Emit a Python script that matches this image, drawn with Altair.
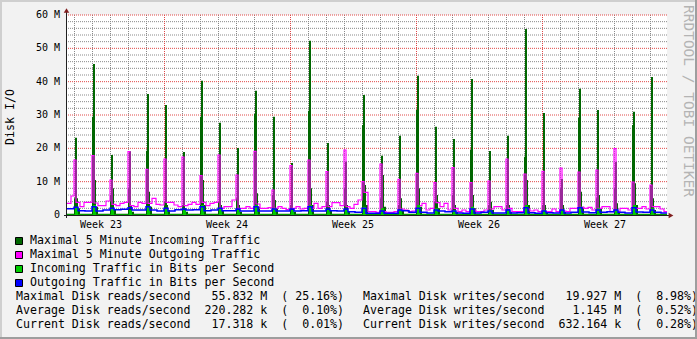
import altair as alt
import pandas as pd

# ---------------- values (M per second) ----------------
week_labels = ["Week 23", "Week 24", "Week 25", "Week 26", "Week 27"]
y_tick_values = [0, 10, 20, 30, 40, 50, 60]
y_tick_labels = ["0  ", "10 M", "20 M", "30 M", "40 M", "50 M", "60 M"]

# one nightly burst per day, 33 days
max_in_peak = [23.2, 45.3, 18.0, 19.1, 36.3, 33.0, 18.9, 40.3, 27.7, 20.1, 37.3,
               29.5, 15.6, 52.3, 21.6, 16.0, 36.0, 17.8, 23.8, 41.8, 26.5, 22.8,
               40.8, 19.2, 23.8, 55.8, 30.6, 10.8, 37.9, 31.5, 15.9, 31.0, 41.4]
max_in_lead = [5.0, 29.5, 6.0, 8.0, 19.3, 4.0, 3.0, 29.5, 4.0, 5.0, 30.3,
               6.0, 3.0, 31.3, 4.0, 8.0, 27.0, 5.0, 3.0, 31.5, 4.0, 6.0,
               19.5, 3.0, 3.0, 17.5, 3.0, 8.0, 29.2, 5.0, 8.0, 27.0, 9.0]
max_in_tail = [5.0, 10.5, 8.0, 3.0, 7.0, 3.0, 2.0, 10.5, 3.0, 3.0, 6.5,
               4.5, 2.0, 8.0, 3.0, 3.0, 9.0, 12.0, 5.0, 8.0, 6.0, 3.0,
               6.0, 4.0, 3.0, 10.5, 3.0, 3.0, 7.0, 6.0, 3.5, 9.5, 5.0]
max_in_tail2 = [2.0, 2.5, 1.5, 1.0, 2.5, 1.5, 1.0, 3.0, 1.5, 1.0, 2.5,
                2.0, 1.0, 3.0, 1.5, 1.0, 3.0, 2.5, 1.5, 2.5, 2.0, 1.0,
                2.0, 1.5, 1.0, 3.0, 1.0, 1.0, 2.5, 2.0, 1.0, 3.0, 1.5]
max_in_floor = 0.4

max_out_peak = [16.5, 17.8, 10.5, 19.0, 13.7, 16.8, 17.4, 11.8, 18.0, 12.0, 19.1,
                7.5, 14.8, 16.5, 13.0, 19.5, 10.0, 15.3, 10.7, 12.5, 9.7, 14.2,
                9.7, 10.2, 16.8, 12.3, 13.1, 14.1, 12.9, 13.5, 19.9, 9.9, 9.0]
max_out_lead = [3.5, 5.7]
max_out_base = [
    [3.8, 2.5, 3.8, 3.8], [3.6, 2.8, 2.8, 4.2], [3.2, 2.8, 3.5, 3.8], [2.8, 2.5, 3.8, 3.5],
    [3.5, 5.0, 3.2, 3.0], [3.8, 3.8, 3.0, 2.5], [2.8, 3.2, 3.8, 3.2], [3.8, 2.8, 3.5, 3.8],
    [2.0, 2.5, 2.5, 4.5], [2.0, 2.0, 2.5, 2.0], [3.3, 2.0, 2.0, 2.2], [2.0, 2.5, 2.0, 1.6],
    [2.0, 2.5, 1.8, 2.0], [2.0, 3.5, 2.0, 2.5], [2.5, 3.7, 3.7, 2.8], [2.5, 2.0, 3.2, 4.5],
    [6.8, 1.0, 1.0, 0.8], [1.0, 0.8, 0.8, 1.0], [1.8, 1.5, 1.0, 1.2], [2.8, 3.5, 1.5, 2.0],
    [3.7, 2.5, 3.5, 1.5], [2.0, 1.0, 1.5, 1.0], [1.5, 1.0, 1.0, 1.5], [1.8, 2.5, 2.5, 1.5],
    [2.0, 1.0, 1.0, 1.0], [1.8, 1.2, 1.5, 1.0], [1.0, 1.0, 1.8, 1.0], [1.2, 1.0, 2.0, 2.0],
    [2.3, 2.0, 2.3, 1.5], [2.0, 2.5, 2.5, 1.0], [1.0, 2.0, 2.0, 1.5], [2.0, 2.0, 2.5, 1.8],
    [2.5, 2.5, 1.8, 1.0],
]

avg_in_peak = [2.5, 3.0, 2.0, 1.5, 2.5, 2.0, 1.5, 3.0, 2.0, 1.5, 3.0,
               2.0, 1.5, 3.0, 1.5, 1.5, 2.5, 2.0, 1.5, 3.0, 2.0, 1.5,
               2.5, 1.5, 1.5, 3.0, 1.5, 1.5, 2.5, 2.0, 1.5, 3.0, 2.0]
avg_in_floor = 0.15

avg_out_peak = [2.3, 2.5, 2.0, 2.2, 2.5, 2.0, 1.8, 2.5, 2.0, 1.8, 2.5,
                1.8, 1.8, 2.5, 1.8, 1.8, 2.0, 1.2, 1.5, 2.0, 1.5, 1.2,
                1.8, 1.2, 1.5, 2.2, 1.2, 1.5, 2.2, 1.5, 1.5, 2.2, 1.5]
avg_out_lead = 1.9
avg_out_base = [
    [1.3, 1.2], [1.2, 1.5], [1.6, 1.7], [1.5, 1.5], [1.5, 1.2], [1.2, 1.6], [1.5, 1.6],
    [1.3, 1.5], [1.3, 1.3], [1.2, 1.2], [1.2, 1.2], [1.2, 1.2], [1.2, 1.3], [1.2, 1.2],
    [1.3, 1.2], [1.0, 0.8], [0.5, 0.5], [0.5, 0.5], [1.3, 0.8], [0.8, 0.6], [1.2, 1.0],
    [0.6, 0.5], [0.6, 0.8], [0.6, 0.6], [0.6, 0.7], [0.7, 0.5], [0.7, 0.6], [0.6, 0.8],
    [0.9, 0.7], [0.8, 1.0], [0.8, 0.6], [0.9, 0.8], [0.8, 0.6],
]

legend_labels = ["Maximal 5 Minute Incoming Traffic", "Maximal 5 Minute Outgoing Traffic",
                 "Incoming Traffic in Bits per Second", "Outgoing Traffic in Bits per Second"]
legend_colors = ["#006600", "#FF00FF", "#00CC00", "#0000FF"]
stats_left = ["Maximal Disk reads/second   55.832 M  ( 25.16%)",
              "Average Disk reads/second  220.282 k  (  0.10%)",
              "Current Disk reads/second   17.318 k  (  0.01%)"]
stats_right = ["Maximal Disk writes/second   19.927 M  (  8.98%)",
               "Average Disk writes/second    1.145 M  (  0.52%)",
               "Current Disk writes/second  632.164 k  (  0.28%)"]

# ---------------- time structure ----------------
SAMPLES_PER_DAY = 18          # one consolidated sample every 80 minutes
N_SAMPLES = 600
DAYS = N_SAMPLES / SAMPLES_PER_DAY
FIRST_MIDNIGHT = 7 / SAMPLES_PER_DAY   # first day boundary after the start
FIRST_WEEK = FIRST_MIDNIGHT + 5        # first week boundary

rows = []
for p in range(N_SAMPLES + 1):
    q = min(p, N_SAMPLES - 1)
    if q < 7:
        mi, mo = max_in_floor, max_out_lead[0 if q < 4 else 1]
        ai, ao = avg_in_floor, avg_out_lead
    else:
        k, o = divmod(q - 7, SAMPLES_PER_DAY)
        if o == 0:
            mi = max_in_lead[k]
        elif o in (1, 2):
            mi = max_in_peak[k]
        elif o == 3:
            mi = max_in_tail[k]
        elif o in (4, 5):
            mi = max_in_tail2[k]
        else:
            mi = max_in_floor
        mo = max_out_peak[k] if o in (0, 1) else max_out_base[k][(o - 2) // 4]
        ai = avg_in_peak[k] if o in (1, 2, 3) else avg_in_floor
        if o <= 3:
            ao = avg_out_peak[k]
        elif o <= 10:
            ao = avg_out_base[k][0]
        else:
            ao = avg_out_base[k][1]
    rows.append(dict(t=p / SAMPLES_PER_DAY, max_in=mi, max_out=mo, avg_in=ai, avg_out=ao))
df = pd.DataFrame(rows)

x_scale = alt.Scale(domain=[0, DAYS], nice=False, zero=False)
y_scale = alt.Scale(domain=[0, 60], nice=False, zero=False)
X = lambda f: alt.X(f, scale=x_scale, axis=None)
Y = lambda f: alt.Y(f, scale=y_scale, axis=None)

day_lines = [FIRST_MIDNIGHT + d for d in range(34) if (d - 5) % 7 != 0 and FIRST_MIDNIGHT + d < DAYS]
week_lines = [FIRST_WEEK + 7 * w for w in range(4)]
y_minor = [v for v in range(2, 60, 2) if v % 10 != 0]
y_major = [10, 20, 30, 40, 50, 60]
week_centers = [FIRST_WEEK - 3.5 + 7 * w for w in range(5)]

GRID = dict(stroke="#8A8A8A", strokeOpacity=1, strokeDash=[1, 1], strokeWidth=1)
MGRID = dict(stroke="#E04848", strokeOpacity=1, strokeDash=[1, 1], strokeWidth=1)

g1 = alt.Chart(pd.DataFrame({"t": day_lines})).mark_rule(xOffset=0.5, **GRID).encode(x=X("t:Q"))
g2 = alt.Chart(pd.DataFrame({"v": y_minor})).mark_rule(**GRID).encode(y=Y("v:Q"))
g3 = alt.Chart(pd.DataFrame({"t": week_lines})).mark_rule(xOffset=0.5, **MGRID).encode(x=X("t:Q"))
g4 = alt.Chart(pd.DataFrame({"v": y_major})).mark_rule(**MGRID).encode(y=Y("v:Q"))

base = alt.Chart(df)
a1 = base.mark_area(interpolate="step-after", color="#006600").encode(x=X("t:Q"), y=Y("max_in:Q"))
l1 = base.mark_line(interpolate="step-after", color="#FF00FF", strokeWidth=1.2).encode(x=X("t:Q"), y=Y("max_out:Q"))
a2 = base.mark_area(interpolate="step-after", color="#00CC00").encode(x=X("t:Q"), y=Y("avg_in:Q"))
l2 = base.mark_line(interpolate="step-after", color="#0000FF", strokeWidth=1.5).encode(x=X("t:Q"), y=Y("avg_out:Q"))

OX, OY = 67, 15  # plot origin on the page
FONT = "DejaVu Sans Mono"


def txt(s, x, y, size=11.6, align="left", angle=0, color="black"):
    return alt.Chart(pd.DataFrame({"s": [s.replace(" ", "\u00a0")]})).mark_text(
        align=align, baseline="middle", font=FONT, fontSize=size, angle=angle, color=color
    ).encode(x=alt.value(x - OX), y=alt.value(y - OY), text="s:N")


ylab = alt.Chart(pd.DataFrame({"v": y_tick_values,
                               "s": [s.replace(" ", "\u00a0") for s in y_tick_labels]})).mark_text(
    align="right", baseline="middle", font=FONT, fontSize=10, color="black"
).encode(y=Y("v:Q"), x=alt.value(-7), text="s:N")
xlab = alt.Chart(pd.DataFrame({"t": week_centers, "s": week_labels})).mark_text(
    align="center", baseline="middle", font=FONT, fontSize=10, color="black"
).encode(x=X("t:Q"), y=alt.value(224.5 - OY), text="s:N")

dummy = pd.DataFrame({"a": [0]})
axis_left = alt.Chart(dummy).mark_rule(color="#1F1F1F", strokeWidth=1).encode(
    x=alt.value(-0.5), y=alt.value(-5), y2=alt.value(203))
axis_bottom = alt.Chart(dummy).mark_rule(color="#1F1F1F", strokeWidth=1).encode(
    x=alt.value(-3), x2=alt.value(603), y=alt.value(200.5))
arrow_up = alt.Chart(dummy).mark_point(shape="triangle-up", filled=True, size=30, color="#801F1F", opacity=1).encode(
    x=alt.value(-0.5), y=alt.value(-4.5))
arrow_right = alt.Chart(dummy).mark_point(shape="triangle-right", filled=True, size=30, color="#801F1F", opacity=1).encode(
    x=alt.value(604), y=alt.value(200.5))

borders = [
    alt.Chart(dummy).mark_rule(color="#CFCFCF", strokeWidth=2).encode(x=alt.value(-OX), x2=alt.value(697 - OX), y=alt.value(1 - OY)),
    alt.Chart(dummy).mark_rule(color="#CFCFCF", strokeWidth=2).encode(x=alt.value(1 - OX), y=alt.value(-OY), y2=alt.value(339 - OY)),
    alt.Chart(dummy).mark_rule(color="#9E9E9E", strokeWidth=2).encode(x=alt.value(696 - OX), y=alt.value(-OY), y2=alt.value(339 - OY)),
    alt.Chart(dummy).mark_rule(color="#9E9E9E", strokeWidth=2).encode(x=alt.value(-OX), x2=alt.value(697 - OX), y=alt.value(338 - OY)),
]

legend_rows_y = [241, 255, 269, 283]
legend_layers = []
for lbl, col, yy in zip(legend_labels, legend_colors, legend_rows_y):
    legend_layers.append(
        alt.Chart(dummy).mark_rect(color=col, stroke="black", strokeWidth=1).encode(
            x=alt.value(15.5 - OX), x2=alt.value(22.5 - OX), y=alt.value(yy - 3.5 - OY), y2=alt.value(yy + 3.5 - OY)))
    legend_layers.append(txt(lbl, 30, yy))

stats_rows_y = [297, 311, 325]
stats_layers = []
for sl, sr, yy in zip(stats_left, stats_right, stats_rows_y):
    stats_layers.append(txt(sl, 16, yy))
    stats_layers.append(txt(sr, 363, yy))

title_y = txt("Disk I/O", 11, 117, size=11.6, align="center", angle=270)
watermark = txt("RRDTOOL / TOBI OETIKER", 688, 101, size=14.5, align="center", angle=90, color="#B4B4B4")

chart = alt.layer(
    g1, g2, g3, g4, a1, l1, a2, l2,
    axis_left, axis_bottom, arrow_up, arrow_right,
    ylab, xlab, title_y, watermark,
    *legend_layers, *stats_layers, *borders,
).properties(
    width=600, height=200,
    autosize=alt.AutoSizeParams(type="none"),
    padding={"left": OX, "top": OY, "right": 30, "bottom": 124},
    background="#F2F2F2",
).configure_view(fill="white", stroke=None)

chart.save("out.html", embed_options={"renderer": "svg", "actions": False})
